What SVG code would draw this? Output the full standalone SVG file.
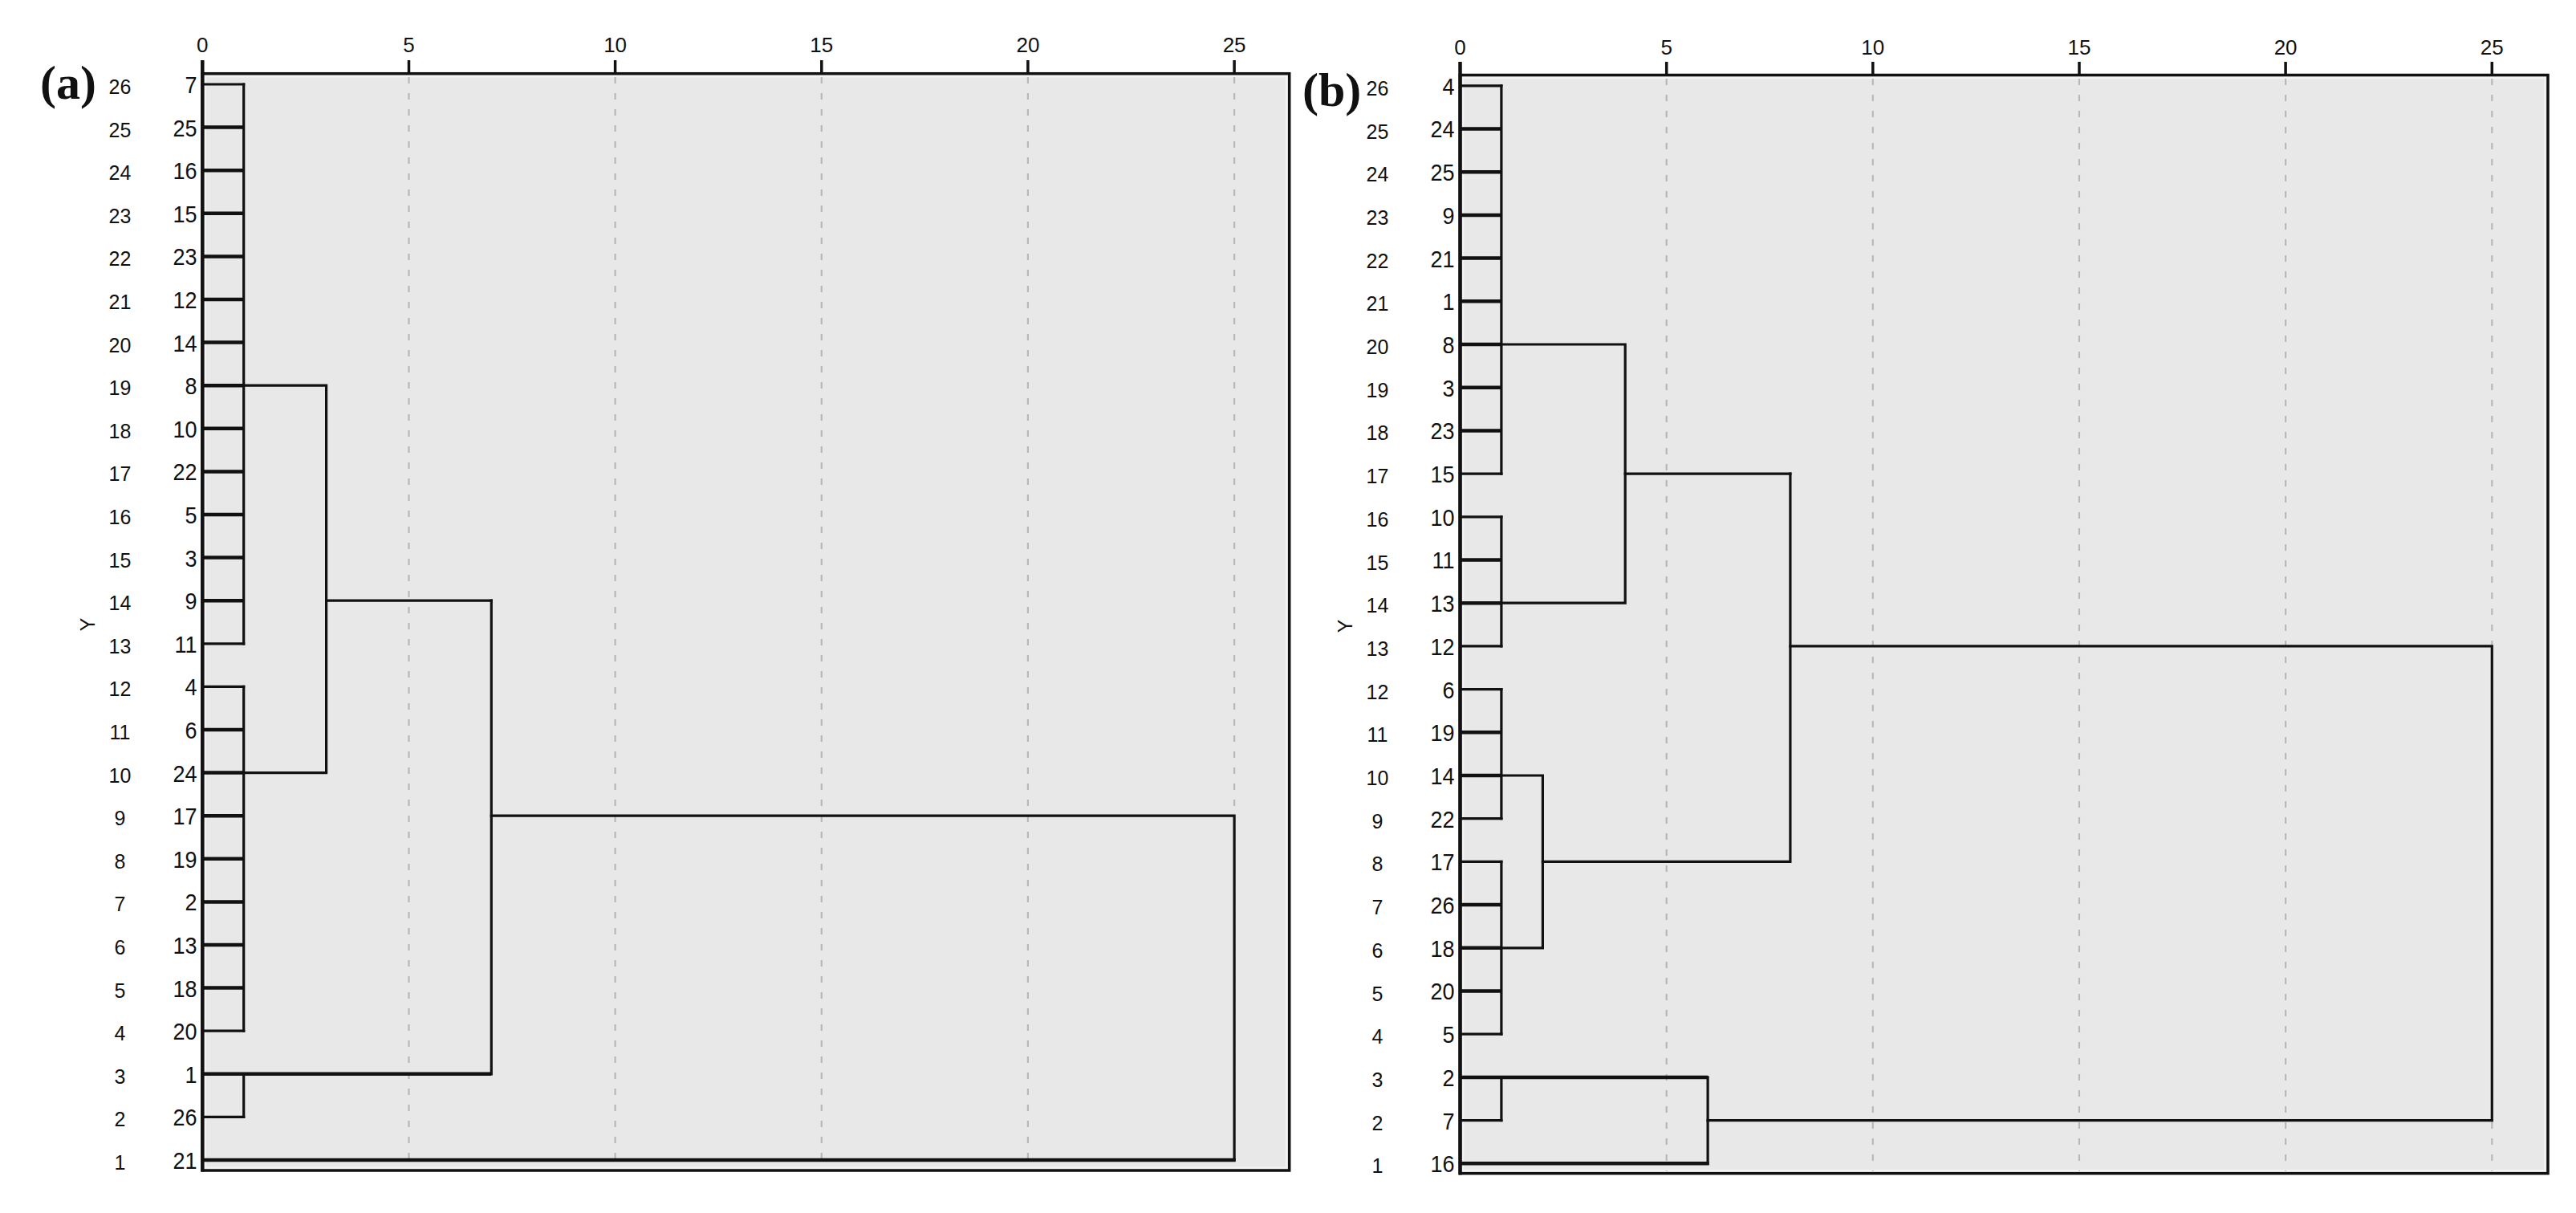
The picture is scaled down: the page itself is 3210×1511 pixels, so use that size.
<svg xmlns="http://www.w3.org/2000/svg" width="3210" height="1511" viewBox="0 0 3210 1511">
<style>
text{fill:#111;font-family:"Liberation Sans",Arial,sans-serif}
.leaf{font-size:30px;text-anchor:end}
.ylab{font-size:25px;text-anchor:middle}
.tick{font-size:26px;text-anchor:middle}
.ytitle{font-size:25px;text-anchor:middle}
.panel{font-family:"Liberation Serif","Times New Roman",serif;font-weight:bold;font-size:60px}
.plot{fill:#e8e8e8;stroke:#111;stroke-width:3.5}
.inner{fill:none;stroke:#f4f4f4;stroke-width:2}
.axis{stroke:#111;stroke-width:4.5;fill:none}
.tk{stroke:#111;stroke-width:3.5}
.grid{stroke:#b8b8b8;stroke-width:2.2;stroke-dasharray:8 12;fill:none}
.link{stroke:#111;stroke-width:3.2;fill:none;stroke-linecap:square;stroke-linejoin:miter}
.bold{stroke:#111;stroke-width:4.5;fill:none;stroke-linecap:butt}
</style>
<rect width="3210" height="1511" fill="#fff"/>

<!-- Panel (a) -->
<g id="panel-a">
  <text class="panel" x="50" y="123">(a)</text>
  <rect class="plot" x="252.3" y="91.7" width="1354.4" height="1366.3"/>
  <rect class="inner" x="256" y="95.4" width="1347" height="1359"/>
  <g id="a-grid">
    <path class="grid" d="M509.5 96V1455M766.6 96V1455M1023.8 96V1455M1280.9 96V1455M1538.1 96V1455"/>
  </g>
  <path class="axis" d="M252.3 75V1459.5"/>
  <path class="tk" d="M509.5 75V91.7M766.6 75V91.7M1023.8 75V91.7M1280.9 75V91.7M1538.1 75V91.7"/>
  <g id="a-ticks">
    <text class="tick" x="252.3" y="65">0</text>
    <text class="tick" x="509.5" y="65">5</text>
    <text class="tick" x="766.6" y="65">10</text>
    <text class="tick" x="1023.8" y="65">15</text>
    <text class="tick" x="1280.9" y="65">20</text>
    <text class="tick" x="1538.1" y="65">25</text>
  </g>
  <text class="ytitle" transform="translate(118,778) rotate(-90)">Y</text>
  <g id="a-rows">
    <text class="ylab" x="149.5" y="1457">1</text>
    <text class="ylab" x="149.5" y="1403.4">2</text>
    <text class="ylab" x="149.5" y="1349.8">3</text>
    <text class="ylab" x="149.5" y="1296.2">4</text>
    <text class="ylab" x="149.5" y="1242.6">5</text>
    <text class="ylab" x="149.5" y="1189">6</text>
    <text class="ylab" x="149.5" y="1135.4">7</text>
    <text class="ylab" x="149.5" y="1081.8">8</text>
    <text class="ylab" x="149.5" y="1028.2">9</text>
    <text class="ylab" x="149.5" y="974.6">10</text>
    <text class="ylab" x="149.5" y="921">11</text>
    <text class="ylab" x="149.5" y="867.4">12</text>
    <text class="ylab" x="149.5" y="813.8">13</text>
    <text class="ylab" x="149.5" y="760.2">14</text>
    <text class="ylab" x="149.5" y="706.6">15</text>
    <text class="ylab" x="149.5" y="653">16</text>
    <text class="ylab" x="149.5" y="599.4">17</text>
    <text class="ylab" x="149.5" y="545.8">18</text>
    <text class="ylab" x="149.5" y="492.2">19</text>
    <text class="ylab" x="149.5" y="438.6">20</text>
    <text class="ylab" x="149.5" y="385">21</text>
    <text class="ylab" x="149.5" y="331.4">22</text>
    <text class="ylab" x="149.5" y="277.8">23</text>
    <text class="ylab" x="149.5" y="224.2">24</text>
    <text class="ylab" x="149.5" y="170.6">25</text>
    <text class="ylab" x="149.5" y="117">26</text>
  </g>
  <g id="a-leaves" transform="translate(245.5,0) scale(0.9,1)">
    <g id="a-leaf-7"><text class="leaf" x="0" y="116">7</text></g>
    <g id="a-leaf-25"><text class="leaf" x="0" y="169.6">25</text></g>
    <g id="a-leaf-16"><text class="leaf" x="0" y="223.2">16</text></g>
    <g id="a-leaf-15"><text class="leaf" x="0" y="276.8">15</text></g>
    <g id="a-leaf-23"><text class="leaf" x="0" y="330.4">23</text></g>
    <g id="a-leaf-12"><text class="leaf" x="0" y="384">12</text></g>
    <g id="a-leaf-14"><text class="leaf" x="0" y="437.6">14</text></g>
    <g id="a-leaf-8"><text class="leaf" x="0" y="491.2">8</text></g>
    <g id="a-leaf-10"><text class="leaf" x="0" y="544.8">10</text></g>
    <g id="a-leaf-22"><text class="leaf" x="0" y="598.4">22</text></g>
    <g id="a-leaf-5"><text class="leaf" x="0" y="652">5</text></g>
    <g id="a-leaf-3"><text class="leaf" x="0" y="705.6">3</text></g>
    <g id="a-leaf-9"><text class="leaf" x="0" y="759.2">9</text></g>
    <g id="a-leaf-11"><text class="leaf" x="0" y="812.8">11</text></g>
    <g id="a-leaf-4"><text class="leaf" x="0" y="866.4">4</text></g>
    <g id="a-leaf-6"><text class="leaf" x="0" y="920">6</text></g>
    <g id="a-leaf-24"><text class="leaf" x="0" y="973.6">24</text></g>
    <g id="a-leaf-17"><text class="leaf" x="0" y="1027.2">17</text></g>
    <g id="a-leaf-19"><text class="leaf" x="0" y="1080.8">19</text></g>
    <g id="a-leaf-2"><text class="leaf" x="0" y="1134.4">2</text></g>
    <g id="a-leaf-13"><text class="leaf" x="0" y="1188">13</text></g>
    <g id="a-leaf-18"><text class="leaf" x="0" y="1241.6">18</text></g>
    <g id="a-leaf-20"><text class="leaf" x="0" y="1295.2">20</text></g>
    <g id="a-leaf-1"><text class="leaf" x="0" y="1348.8">1</text></g>
    <g id="a-leaf-26"><text class="leaf" x="0" y="1402.4">26</text></g>
    <g id="a-leaf-21"><text class="leaf" x="0" y="1456">21</text></g>
  </g>
  <g id="a-connectors">
    <path class="link" d="M254 105H303.7M254 801.8H303.7M254 855.4H303.7M254 1284.2H303.7M254 1391.4H303.7"/>
    <path class="bold" d="M254 158.6H303.7M254 212.2H303.7M254 265.8H303.7M254 319.4H303.7M254 373H303.7M254 426.6H303.7M254 480.2H303.7M254 533.8H303.7M254 587.4H303.7M254 641H303.7M254 694.6H303.7M254 748.2H303.7"/>
    <path class="bold" d="M254 909H303.7M254 962.6H303.7M254 1016.2H303.7M254 1069.8H303.7M254 1123.4H303.7M254 1177H303.7M254 1230.6H303.7"/>
    <path class="link" d="M303.7 105V801.8"/>
    <path class="link" d="M303.7 855.4V1284.2"/>
    <path class="link" d="M303.7 480.2H406.6V962.6H303.7"/>
    <path class="link" d="M406.6 748.2H612.3"/>
    <path class="link" d="M303.7 1391.4V1337.8"/>
    <path class="bold" d="M254 1337.8H612.3"/>
    <path class="link" d="M612.3 1337.8V748.2"/>
    <path class="link" d="M612.3 1016.2H1538.1V1445"/>
    <path class="bold" d="M254 1445H1539.7"/>
  </g>
</g>

<!-- Panel (b) -->
<g id="panel-b">
  <text class="panel" x="1623" y="132">(b)</text>
  <rect class="plot" x="1819.5" y="93.5" width="1355.5" height="1368.2"/>
  <rect class="inner" x="1823.2" y="97.2" width="1348" height="1360.8"/>
  <g id="b-grid">
    <path class="grid" d="M2076.7 98V1459M2333.8 98V1459M2591 98V1459M2848.1 98V1459M3105.3 98V1459"/>
  </g>
  <path class="axis" d="M1819.5 77V1463.5"/>
  <path class="tk" d="M2076.7 77V93.5M2333.8 77V93.5M2591 77V93.5M2848.1 77V93.5M3105.3 77V93.5"/>
  <g id="b-ticks">
    <text class="tick" x="1819.5" y="68">0</text>
    <text class="tick" x="2076.7" y="68">5</text>
    <text class="tick" x="2333.8" y="68">10</text>
    <text class="tick" x="2591" y="68">15</text>
    <text class="tick" x="2848.1" y="68">20</text>
    <text class="tick" x="3105.3" y="68">25</text>
  </g>
  <text class="ytitle" transform="translate(1685,780) rotate(-90)">Y</text>
  <g id="b-rows">
    <text class="ylab" x="1716.5" y="1461.3">1</text>
    <text class="ylab" x="1716.5" y="1407.6">2</text>
    <text class="ylab" x="1716.5" y="1353.9">3</text>
    <text class="ylab" x="1716.5" y="1300.2">4</text>
    <text class="ylab" x="1716.5" y="1246.5">5</text>
    <text class="ylab" x="1716.5" y="1192.8">6</text>
    <text class="ylab" x="1716.5" y="1139.1">7</text>
    <text class="ylab" x="1716.5" y="1085.4">8</text>
    <text class="ylab" x="1716.5" y="1031.7">9</text>
    <text class="ylab" x="1716.5" y="978">10</text>
    <text class="ylab" x="1716.5" y="924.3">11</text>
    <text class="ylab" x="1716.5" y="870.6">12</text>
    <text class="ylab" x="1716.5" y="816.9">13</text>
    <text class="ylab" x="1716.5" y="763.2">14</text>
    <text class="ylab" x="1716.5" y="709.5">15</text>
    <text class="ylab" x="1716.5" y="655.8">16</text>
    <text class="ylab" x="1716.5" y="602.1">17</text>
    <text class="ylab" x="1716.5" y="548.4">18</text>
    <text class="ylab" x="1716.5" y="494.7">19</text>
    <text class="ylab" x="1716.5" y="441">20</text>
    <text class="ylab" x="1716.5" y="387.3">21</text>
    <text class="ylab" x="1716.5" y="333.6">22</text>
    <text class="ylab" x="1716.5" y="279.9">23</text>
    <text class="ylab" x="1716.5" y="226.2">24</text>
    <text class="ylab" x="1716.5" y="172.5">25</text>
    <text class="ylab" x="1716.5" y="118.8">26</text>
  </g>
  <g id="b-leaves" transform="translate(1812.5,0) scale(0.9,1)">
    <g id="b-leaf-4"><text class="leaf" x="0" y="117.8">4</text></g>
    <g id="b-leaf-24"><text class="leaf" x="0" y="171.5">24</text></g>
    <g id="b-leaf-25"><text class="leaf" x="0" y="225.2">25</text></g>
    <g id="b-leaf-9"><text class="leaf" x="0" y="278.9">9</text></g>
    <g id="b-leaf-21"><text class="leaf" x="0" y="332.6">21</text></g>
    <g id="b-leaf-1"><text class="leaf" x="0" y="386.3">1</text></g>
    <g id="b-leaf-8"><text class="leaf" x="0" y="440">8</text></g>
    <g id="b-leaf-3"><text class="leaf" x="0" y="493.7">3</text></g>
    <g id="b-leaf-23"><text class="leaf" x="0" y="547.4">23</text></g>
    <g id="b-leaf-15"><text class="leaf" x="0" y="601.1">15</text></g>
    <g id="b-leaf-10"><text class="leaf" x="0" y="654.8">10</text></g>
    <g id="b-leaf-11"><text class="leaf" x="0" y="708.5">11</text></g>
    <g id="b-leaf-13"><text class="leaf" x="0" y="762.2">13</text></g>
    <g id="b-leaf-12"><text class="leaf" x="0" y="815.9">12</text></g>
    <g id="b-leaf-6"><text class="leaf" x="0" y="869.6">6</text></g>
    <g id="b-leaf-19"><text class="leaf" x="0" y="923.3">19</text></g>
    <g id="b-leaf-14"><text class="leaf" x="0" y="977">14</text></g>
    <g id="b-leaf-22"><text class="leaf" x="0" y="1030.7">22</text></g>
    <g id="b-leaf-17"><text class="leaf" x="0" y="1084.4">17</text></g>
    <g id="b-leaf-26"><text class="leaf" x="0" y="1138.1">26</text></g>
    <g id="b-leaf-18"><text class="leaf" x="0" y="1191.8">18</text></g>
    <g id="b-leaf-20"><text class="leaf" x="0" y="1245.5">20</text></g>
    <g id="b-leaf-5"><text class="leaf" x="0" y="1299.2">5</text></g>
    <g id="b-leaf-2"><text class="leaf" x="0" y="1352.9">2</text></g>
    <g id="b-leaf-7"><text class="leaf" x="0" y="1406.6">7</text></g>
    <g id="b-leaf-16"><text class="leaf" x="0" y="1460.3">16</text></g>
  </g>
  <g id="b-connectors">
    <path class="link" d="M1821 106.8H1870.9M1821 590.1H1870.9M1821 643.8H1870.9M1821 804.9H1870.9M1821 858.6H1870.9M1821 1019.7H1870.9M1821 1073.4H1870.9M1821 1288.2H1870.9M1821 1395.6H1870.9"/>
    <path class="bold" d="M1821 160.5H1870.9M1821 214.2H1870.9M1821 267.9H1870.9M1821 321.6H1870.9M1821 375.3H1870.9M1821 429H1870.9M1821 482.7H1870.9M1821 536.4H1870.9"/>
    <path class="bold" d="M1821 697.5H1870.9M1821 751.2H1870.9M1821 912.3H1870.9M1821 966H1870.9M1821 1127.1H1870.9M1821 1180.8H1870.9M1821 1234.5H1870.9"/>
    <path class="link" d="M1870.9 106.8V590.1"/>
    <path class="link" d="M1870.9 643.8V804.9"/>
    <path class="link" d="M1870.9 429H2025.2V751.2H1870.9"/>
    <path class="link" d="M2025.2 590.1H2230.9"/>
    <path class="link" d="M1870.9 858.6V1019.7"/>
    <path class="link" d="M1870.9 1073.4V1288.2"/>
    <path class="link" d="M1870.9 966H1922.4V1180.8H1870.9"/>
    <path class="link" d="M1922.4 1073.4H2230.9V590.1"/>
    <path class="link" d="M2230.9 804.9H3105.3V1395.6"/>
    <path class="link" d="M1870.9 1395.6V1341.9"/>
    <path class="bold" d="M1821 1341.9H2128.1"/>
    <path class="link" d="M2128.1 1341.9V1449.3"/>
    <path class="bold" d="M1821 1449.3H2129.7"/>
    <path class="link" d="M2128.1 1395.6H3105.3"/>
  </g>
</g>
</svg>
